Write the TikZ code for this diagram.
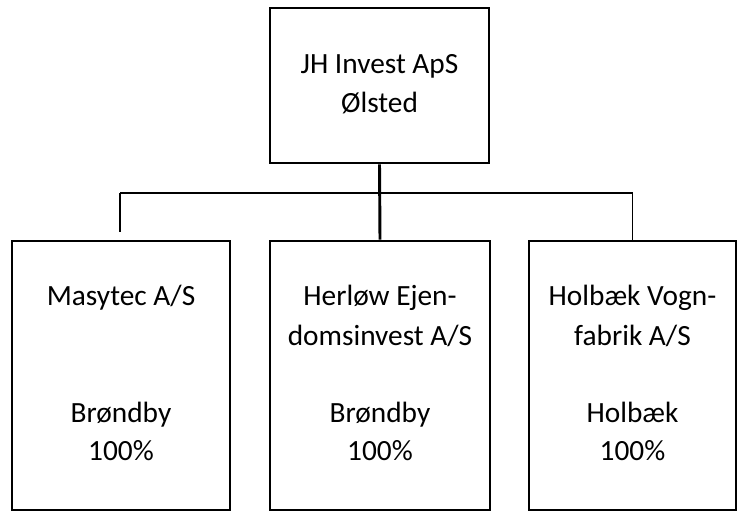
\documentclass[tikz,border=0pt]{standalone}
\usepackage{fontspec}
\setmainfont{Carlito}
\usetikzlibrary{calc}

\begin{document}
\begin{tikzpicture}[x=0.75pt, y=-0.75pt,
    box/.style={draw, line width=2.2pt, rectangle, inner sep=0pt},
    lbl/.style={anchor=base, inner sep=0pt, font=\fontsize{22}{28}\selectfont}]

\useasboundingbox (0,0) rectangle (737,511);

% Boxes
\node[box, minimum width=164.25pt, minimum height=116.25pt] (top) at (379.5,85.5) {};
\node[box, minimum width=163.5pt, minimum height=201.75pt] (lbox) at (121,375.5) {};
\node[box, minimum width=165pt, minimum height=201.75pt] (mbox) at (380,375.5) {};
\node[box, minimum width=155.25pt, minimum height=201.75pt] (rbox) at (632.5,375.5) {};

% Texts
\node[lbl] (topa) at ($(top.north)+(0,67)$) {JH Invest ApS};
\node[lbl] (topb) at ($(top.north)+(0,106)$) {Ølsted};

\node[lbl] (la) at ($(lbox.north)+(0,66)$) {Masytec A/S};
\node[lbl] (lc) at ($(lbox.north)+(0,183)$) {Brøndby};
\node[lbl] (ld) at ($(lbox.north)+(0,221)$) {100\%};

\node[lbl] (ma) at ($(mbox.north)+(0,66)$) {Herløw Ejen-};
\node[lbl] (mb) at ($(mbox.north)+(0,106)$) {domsinvest A/S};
\node[lbl] (mc) at ($(mbox.north)+(0,183)$) {Brøndby};
\node[lbl] (md) at ($(mbox.north)+(0,221)$) {100\%};

\node[lbl] (ra) at ($(rbox.north)+(0,66)$) {Holbæk Vogn-};
\node[lbl] (rb) at ($(rbox.north)+(0,106)$) {fabrik A/S};
\node[lbl] (rc) at ($(rbox.north)+(0,183)$) {Holbæk};
\node[lbl] (rd) at ($(rbox.north)+(0,221)$) {100\%};

% Connectors
\coordinate (bus) at (0,193);
\coordinate (lstub) at (120,232);
\draw[line width=2.2pt] (top.south) -- (mbox.north);
\draw[line width=1.5pt] (lstub |- bus) -- (rbox.north |- bus);
\draw[line width=2.2pt] (lstub |- bus) -- (lstub);
\draw[line width=1.1pt] (rbox.north |- bus) -- (rbox.north);

\end{tikzpicture}
\end{document}
